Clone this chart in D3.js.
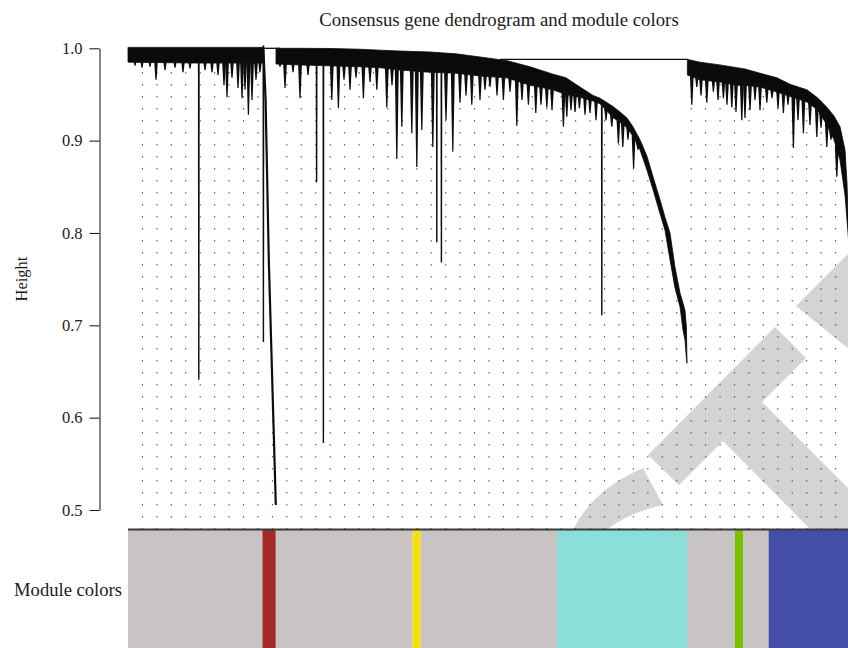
<!DOCTYPE html>
<html>
<head>
<meta charset="utf-8">
<script src="https://cdn.jsdelivr.net/npm/d3@7/dist/d3.min.js"></script>
<style>
  html, body { margin: 0; padding: 0; background: #ffffff; }
  svg { display: block; }
  text { font-family: "Liberation Serif", "Times New Roman", serif; fill: #1b1b1b; }
</style>
</head>
<body>
<svg id="chart" width="848" height="648"></svg>
<script>
// ---- data -------------------------------------------------------------
// genes in dendrogram (leaf) order
const nLeaves = 3610;
const heightTicks = [0.5, 0.6, 0.7, 0.8, 0.9, 1.0];

// module colour runs along the leaf order (run lengths in genes)
const moduleNames = ["grey", "brown", "grey", "yellow", "grey", "turquoise", "grey", "green", "grey", "blue"];
const moduleSizes = [672, 67, 684, 41, 681, 650, 240, 40, 128, 407];

// dense branch mass of the three main clusters: leaf position, upper and lower height
const leftLeaf   = [0, 340, 675];
const leftTop    = [1.001, 1.001, 1.001];
const leftBottom = [0.985, 0.984, 0.984];

const midLeaf   = [740, 860, 1010, 1160, 1260, 1360, 1510, 1640, 1760, 1895, 2010, 2125, 2190, 2260, 2325, 2360,
                   2425, 2460, 2495, 2525, 2560, 2595, 2625, 2660, 2685, 2710, 2735, 2760, 2775, 2785, 2792, 2795];
const midTop    = [1.000, 1.000, 0.9998, 0.999, 0.998, 0.997, 0.996, 0.994, 0.9906, 0.9866, 0.980, 0.972, 0.968, 0.958, 0.949, 0.946,
                   0.937, 0.931, 0.9245, 0.915, 0.901, 0.883, 0.861, 0.836, 0.817, 0.800, 0.763, 0.735, 0.724, 0.716, 0.698, 0.659];
const midBottom = [0.983, 0.982, 0.981, 0.980, 0.979, 0.9765, 0.974, 0.973, 0.970, 0.968, 0.960, 0.955, 0.950, 0.947, 0.943, 0.940,
                   0.925, 0.920, 0.914, 0.905, 0.890, 0.868, 0.847, 0.821, 0.803, 0.771, 0.7405, 0.720, 0.695, 0.684, 0.6645, 0.659];

const rightLeaf   = [2797, 2860, 2960, 3045, 3085, 3160, 3245, 3310, 3395, 3450, 3495, 3530, 3560, 3585, 3595, 3603, 3610];
const rightTop    = [0.988, 0.985, 0.982, 0.979, 0.9776, 0.973, 0.968, 0.961, 0.955, 0.946, 0.936, 0.9267, 0.915, 0.890, 0.854, 0.800, 0.792];
const rightBottom = [0.971, 0.966, 0.9635, 0.960, 0.960, 0.958, 0.9527, 0.948, 0.9418, 0.933, 0.917, 0.901, 0.879, 0.841, 0.814, 0.792, 0.787];

// chained (brown) branch descending leaf by leaf
const chainLeaf   = [677, 688, 704, 739];
const chainHeight = [0.999, 0.944, 0.7705, 0.5054];

// high merges joining the clusters: from leaf, to leaf, height
const mergeFrom   = [650, 1860];
const mergeTo     = [760, 2800];
const mergeHeight = [1.000, 0.988];

// individual leaves / small branches hanging below the mass
const spikeLeaf = [35, 70, 110, 140, 185, 235, 275, 310, 354, 385, 420, 450, 480, 495, 520, 550, 570, 585, 602, 620, 640, 660, 677,
  760, 785, 825, 860, 900, 943, 977, 1019, 1052, 1080, 1110, 1140, 1177, 1210, 1244, 1294, 1320, 1344, 1369, 1419, 1444, 1469,
  1524, 1544, 1567, 1590, 1624, 1660, 1690, 1719, 1760, 1785, 1810, 1845, 1877, 1910, 1944, 1970, 2002, 2039, 2065, 2094, 2120,
  2177, 2194, 2215, 2235, 2257, 2285, 2310, 2340, 2369, 2390, 2419, 2452, 2474, 2500, 2528, 2550,
  2819, 2844, 2865, 2894, 2927, 2950, 2977, 2995, 3019, 3040, 3069, 3085, 3110, 3135, 3160, 3194, 3220, 3250, 3277, 3300,
  3327, 3350, 3377, 3410, 3444, 3465, 3494, 3515, 3544, 3577];
const spikeHeight = [0.981, 0.979, 0.980, 0.966, 0.9765, 0.979, 0.974, 0.978, 0.641, 0.9765, 0.974, 0.971, 0.960, 0.947, 0.968, 0.957, 0.946, 0.955, 0.928, 0.944, 0.966, 0.974, 0.682,
  0.980, 0.957, 0.974, 0.946, 0.971, 0.855, 0.5725, 0.944, 0.935, 0.966, 0.955, 0.968, 0.946, 0.9635, 0.955, 0.936, 0.960, 0.880, 0.915, 0.908, 0.8715, 0.9115,
  0.893, 0.790, 0.768, 0.922, 0.888, 0.941, 0.949, 0.939, 0.944, 0.955, 0.958, 0.949, 0.944, 0.953, 0.916, 0.944, 0.939, 0.930, 0.939, 0.936, 0.933,
  0.915, 0.926, 0.933, 0.931, 0.935, 0.928, 0.930, 0.922, 0.711, 0.922, 0.915, 0.897, 0.893, 0.901, 0.870, 0.890,
  0.939, 0.958, 0.949, 0.941, 0.953, 0.944, 0.946, 0.939, 0.936, 0.931, 0.922, 0.9245, 0.933, 0.944, 0.933, 0.941, 0.946, 0.935, 0.930, 0.939,
  0.892, 0.922, 0.908, 0.917, 0.904, 0.914, 0.893, 0.901, 0.861, 0.887];

const guideCount = 50;

// ---- styles -----------------------------------------------------------
const moduleFill = {
  grey: "#c7c4c3", brown: "#a52b2b", yellow: "#f6df10", turquoise: "#8ae0d9", green: "#78c100", blue: "#454ea6"
};

// ---- layout -----------------------------------------------------------
const svg = d3.select("#chart");
const plotLeft = 128, plotRight = 850, barTop = 529.5, barBottom = 648;
const x = d3.scaleLinear().domain([0, nLeaves]).range([plotLeft, plotRight]);
const y = d3.scaleLinear().domain([0.5, 1.0]).range([510, 48.3]);

// background publisher mark (light grey, behind the plot)
const mark = svg.append("g").attr("fill", "#d4d4d4");
mark.append("path").attr("d", "M648,455 L679,485 L806,358 L775,327 Z");
mark.append("path").attr("d", "M723,441 L762,402 L890,530 L811,530 Z");
mark.append("path").attr("d", "M796,306 L850,252 L850,350 Z");
mark.append("path").attr("d", "M573,530 Q592,490 643,468 L663,505 Q630,512 606,530 Z");

// lowest edge of the tree at each leaf, used to end guide lines and start spikes
const lowDomain = [...leftLeaf, ...chainLeaf, ...midLeaf, ...rightLeaf];
const lowRange  = [...leftBottom, ...chainHeight, ...midBottom, ...rightBottom];
const lowEdge = d3.scaleLinear().domain(lowDomain).range(lowRange);

// dotted guide lines, dash pattern anchored at the base
const guides = d3.range(1, guideCount).map(i => nLeaves * i / guideCount);
svg.append("g")
  .selectAll("line").data(guides).join("line")
  .attr("x1", d => x(d)).attr("x2", d => x(d))
  .attr("y1", barTop).attr("y2", d => y(lowEdge(d)))
  .attr("stroke", "#5a5a5a").attr("stroke-width", 1.1)
  .attr("stroke-dasharray", "1.6 10.4");

// dense branch masses
const tree = svg.append("g");
const mass = d3.area()
  .x(d => x(d[0])).y0(d => y(d[2])).y1(d => y(d[1]));
[[leftLeaf, leftTop, leftBottom], [midLeaf, midTop, midBottom], [rightLeaf, rightTop, rightBottom]]
  .forEach(([l, t, b]) => {
    tree.append("path").datum(d3.zip(l, t, b))
      .attr("d", mass).attr("fill", "#0a0a0a")
      .attr("stroke", "#0a0a0a").attr("stroke-width", 0.8);
  });

// hanging leaves and sub-branches (tapered)
const spikes = d3.zip(spikeLeaf, spikeHeight)
  .map(([l, h]) => ({ l, h, top: lowEdge(l) + 0.004 }))
  .filter(d => d.top > d.h);
tree.append("g").selectAll("path").data(spikes).join("path")
  .attr("d", d => {
    const cx = x(d.l), y0 = y(d.top), y1 = y(d.h);
    const long = (d.top - d.h) > 0.12;
    const b = long ? 0.9 : 2.0, t = long ? 0.7 : 0.6;
    return `M${cx - b},${y0}L${cx + b},${y0}L${cx + t},${y1}L${cx - t},${y1}Z`;
  })
  .attr("fill", "#0d0d0d");

// chained brown branch
tree.append("path")
  .datum(d3.zip(chainLeaf, chainHeight))
  .attr("d", d3.line().x(d => x(d[0])).y(d => y(d[1])))
  .attr("fill", "none").attr("stroke", "#0d0d0d").attr("stroke-width", 2.2);

// merge lines
tree.append("g").selectAll("line").data(d3.zip(mergeFrom, mergeTo, mergeHeight)).join("line")
  .attr("x1", d => x(d[0])).attr("x2", d => x(d[1]))
  .attr("y1", d => y(d[2])).attr("y2", d => y(d[2]))
  .attr("stroke", "#0d0d0d").attr("stroke-width", 1.3);

// ---- y axis -----------------------------------------------------------
const axis = svg.append("g")
  .attr("transform", "translate(99.5,0)")
  .call(d3.axisLeft(y).tickValues(heightTicks).tickFormat(d3.format(".1f"))
    .tickSize(10).tickSizeOuter(0).tickPadding(7));
axis.select(".domain").attr("stroke", "#222").attr("stroke-width", 1.1);
axis.selectAll(".tick line").attr("stroke", "#222").attr("stroke-width", 1.1);
axis.selectAll(".tick text")
  .attr("font-family", "Liberation Serif, Times New Roman, serif")
  .attr("font-size", 16.5).attr("fill", "#1b1b1b");

svg.append("text")
  .attr("transform", "translate(27,279) rotate(-90)")
  .attr("text-anchor", "middle")
  .attr("font-size", 16.5)
  .text("Height");

// ---- module colour bar ------------------------------------------------
const starts = d3.cumsum([0, ...moduleSizes]);
svg.append("g").selectAll("rect").data(moduleNames).join("rect")
  .attr("x", (d, i) => x(starts[i]))
  .attr("width", (d, i) => x(starts[i + 1]) - x(starts[i]))
  .attr("y", barTop).attr("height", barBottom - barTop)
  .attr("fill", d => moduleFill[d]);

svg.append("line")
  .attr("x1", plotLeft).attr("x2", plotRight)
  .attr("y1", barTop).attr("y2", barTop)
  .attr("stroke", "#3a3a3a").attr("stroke-width", 1.8);

svg.append("text")
  .attr("x", 122).attr("y", 589)
  .attr("text-anchor", "end").attr("dominant-baseline", "central")
  .attr("font-size", 18.6)
  .text("Module colors");

// ---- title ------------------------------------------------------------
svg.append("text")
  .attr("x", 499).attr("y", 26)
  .attr("text-anchor", "middle")
  .attr("font-size", 18.8)
  .text("Consensus gene dendrogram and module colors");
</script>
</body>
</html>
